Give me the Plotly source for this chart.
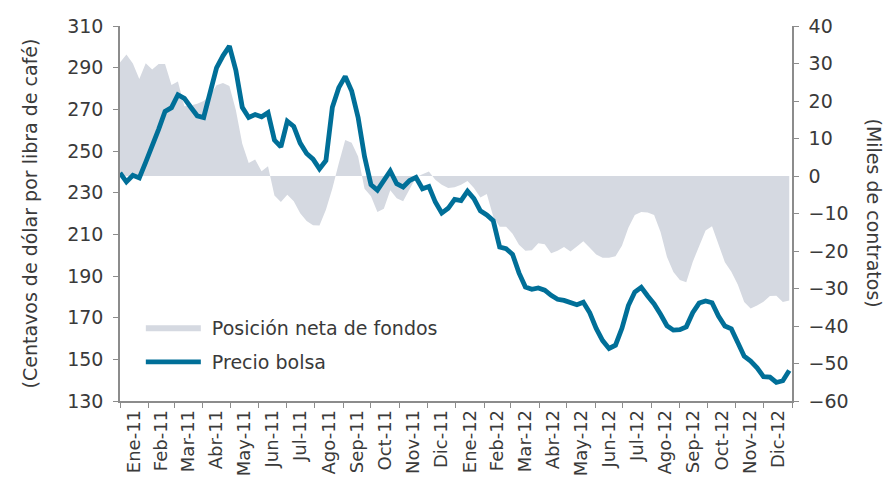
import pandas as pd
import plotly.graph_objects as go

# Weekly observations (Jan 2011 - Dec 2012)
week_dates = pd.date_range("2011-01-01", periods=105, freq="7D")

precio_bolsa = [
    239.5, 235.2, 238.3, 237.1, 244.7, 252.0, 260.4, 269.0, 270.8, 277.0,
    275.3, 271.0, 266.9, 266.1, 277.5, 289.9, 295.7, 300.3, 288.8, 271.0,
    266.1, 267.5, 266.4, 268.4, 255.2, 252.0, 264.3, 261.8, 253.8, 248.8,
    246.1, 241.4, 245.4, 271.0, 280.4, 285.8, 278.8, 266.1, 247.3, 233.8,
    231.2, 235.7, 240.4, 234.3, 232.7, 235.8, 237.3, 231.9, 233.0, 225.5,
    220.2, 222.5, 226.8, 226.2, 230.7, 227.1, 221.3, 219.3, 216.6, 203.9,
    203.1, 200.4, 191.5, 184.7, 183.6, 184.3, 183.2, 180.7, 178.8, 178.3,
    177.0, 176.2, 177.4, 172.3, 164.8, 159.0, 155.2, 156.8, 164.9, 175.8,
    182.3, 184.6, 180.4, 176.6, 171.6, 166.1, 164.0, 164.2, 165.6, 172.4,
    177.0, 178.0, 177.2, 170.8, 166.0, 164.6, 158.1, 151.5, 149.2, 145.9,
    141.7, 141.5, 138.9, 139.7, 144.6,
]

posicion_neta = [
    30.3, 32.4, 30.0, 25.9, 30.1, 28.4, 29.9, 29.9, 24.3, 25.2,
    18.6, 18.8, 19.3, 20.0, 21.5, 24.2, 24.8, 24.0, 17.6, 8.6,
    3.5, 4.4, 1.3, 2.6, -5.2, -6.9, -5.0, -6.7, -9.9, -12.0,
    -13.1, -13.2, -9.0, -3.3, 3.4, 9.6, 8.9, 5.2, -3.4, -5.4,
    -9.6, -8.7, -3.8, -5.9, -6.7, -3.4, -0.3, 0.5, 1.2, -1.0,
    -2.3, -3.2, -3.0, -2.3, -1.3, -3.2, -5.7, -4.8, -10.8, -13.5,
    -13.5, -15.4, -18.3, -19.9, -19.8, -17.9, -18.2, -20.6, -19.9, -18.9,
    -20.1, -18.8, -17.4, -19.1, -20.9, -21.8, -21.8, -21.4, -18.6, -13.8,
    -10.4, -9.6, -9.7, -10.4, -14.9, -21.6, -25.6, -27.7, -28.3, -22.9,
    -18.5, -14.5, -13.4, -18.2, -23.0, -25.5, -28.9, -33.6, -35.3, -34.5,
    -33.5, -32.0, -31.9, -33.6, -33.2,
]

month_labels = [
    "Ene-11", "Feb-11", "Mar-11", "Abr-11", "May-11", "Jun-11",
    "Jul-11", "Ago-11", "Sep-11", "Oct-11", "Nov-11", "Dic-11",
    "Ene-12", "Feb-12", "Mar-12", "Abr-12", "May-12", "Jun-12",
    "Jul-12", "Ago-12", "Sep-12", "Oct-12", "Nov-12", "Dic-12",
]
month_starts = pd.date_range("2011-01-01", "2013-01-01", freq="MS")
month_mids = [s + (e - s) / 2 for s, e in zip(month_starts[:-1], month_starts[1:])]

FONT = "DejaVu Sans"
TXT = "#3a3a3a"
AXC = "#8c8c8c"

fig = go.Figure()
# Area on the primary (right-side) axis so that the price line, on the
# overlaying axis, is drawn above it.
fig.add_trace(go.Scatter(
    x=week_dates, y=posicion_neta, yaxis="y", name=" Posición neta de fondos",
    legendgroup="a",
    mode="lines", line=dict(width=0, color="#d5d9e1"),
    fill="tozeroy", fillcolor="#d5d9e1",
))
fig.add_trace(go.Scatter(
    x=week_dates, y=precio_bolsa, yaxis="y2", name=" Precio bolsa",
    legendgroup="b",
    mode="lines", line=dict(width=4.8, color="#006f98"),
))

fig.update_layout(
    width=890, height=489,
    margin=dict(l=120, r=98, t=26, b=88),
    paper_bgcolor="white", plot_bgcolor="white",
    font=dict(family=FONT, color=TXT, size=19),
    showlegend=True,
    legend=dict(
        x=0.031, y=0.247, xanchor="left", yanchor="top",
        bgcolor="rgba(0,0,0,0)", font=dict(size=19, color=TXT),
        itemwidth=55, tracegroupgap=7,
    ),
    xaxis=dict(
        type="date", range=[month_starts[0], month_starts[-1]],
        tickmode="array", tickvals=month_mids, ticktext=month_labels,
        tickangle=-90, ticks="", tickfont=dict(size=18, color=TXT),
        showline=True, linecolor=AXC, linewidth=1.5, showgrid=False,
        zeroline=False,
        minor=dict(tickmode="array", tickvals=list(month_starts), ticks="outside",
                   ticklen=5, tickcolor=AXC, showgrid=False),
    ),
    yaxis=dict(
        range=[-60, 40], tickmode="linear", tick0=-60, dtick=10,
        side="right",
        ticks="outside", ticklen=5, tickcolor=AXC,
        showline=True, linecolor=AXC, linewidth=1.5, showgrid=False,
        zeroline=False, tickfont=dict(size=19, color=TXT),
        ticklabelstandoff=6,
    ),
    yaxis2=dict(
        range=[130, 310], tickmode="linear", tick0=130, dtick=20,
        overlaying="y", side="left",
        ticks="outside", ticklen=5, tickcolor=AXC,
        showline=True, linecolor=AXC, linewidth=1.5, showgrid=False,
        zeroline=False, tickfont=dict(size=19, color=TXT),
        ticklabelstandoff=6,
    ),
    annotations=[
        dict(text="(Centavos de dólar por libra de café)", textangle=-90,
             xref="paper", yref="paper", x=-0.134, y=0.5,
             xanchor="center", yanchor="middle", showarrow=False,
             font=dict(size=19, color=TXT)),
        dict(text="(Miles de contratos)", textangle=90,
             xref="paper", yref="paper", x=1.1235, y=0.5,
             xanchor="center", yanchor="middle", showarrow=False,
             font=dict(size=19, color=TXT)),
    ],
)

fig.write_html(
    "out.html",
    config={"displayModeBar": False},
    post_script="document.body.style.margin='0';document.body.style.overflow='hidden';",
)
